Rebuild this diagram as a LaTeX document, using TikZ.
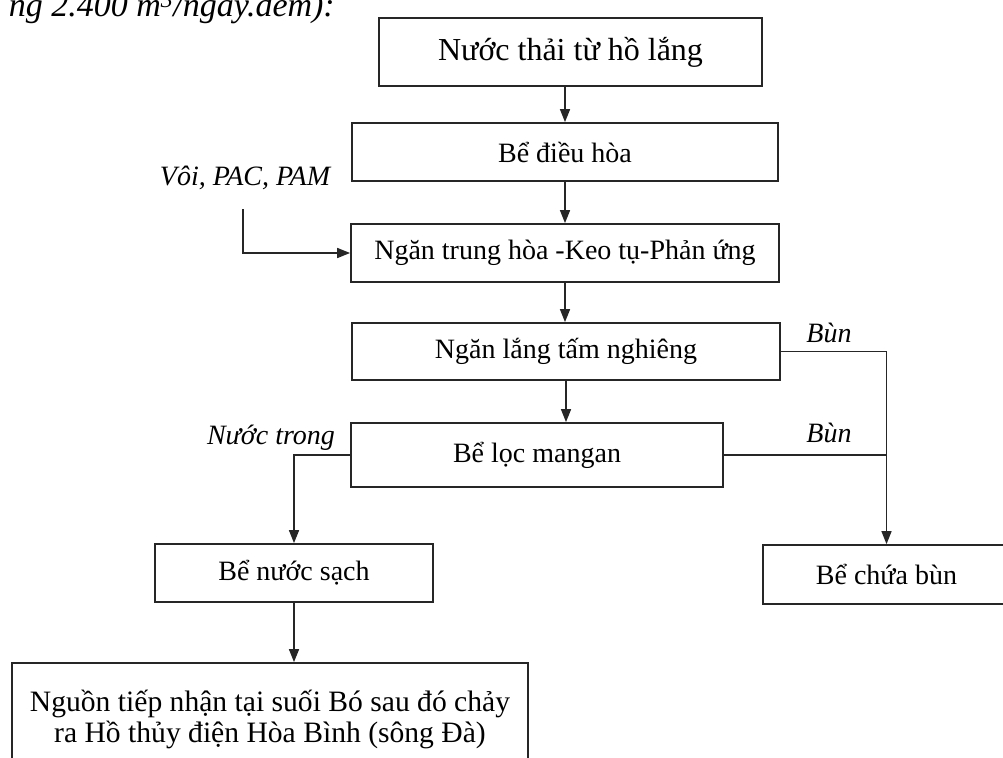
\documentclass[tikz,border=0pt]{standalone}
\usepackage{fontspec}
\setmainfont{Liberation Serif}
\usetikzlibrary{arrows.meta}
\begin{document}
\begin{tikzpicture}[
  x=1pt,y=-1pt,
  stage/.style={draw=black!85,line width=1.7pt,minimum height=58pt,
                align=center,inner sep=0pt,font=\fontsize{28}{31}\selectfont},
  bigstage/.style={stage,font=\fontsize{32}{31}\selectfont},
  note/.style={font=\fontsize{28}{30}\selectfont\itshape},
  flow/.style={-{Triangle[length=13pt,width=10pt]},line width=1.4pt,draw=black!85},
  link/.style={line width=1.4pt,draw=black!85}
]
  \useasboundingbox (0,0) rectangle (1003,757);
  \node[font=\fontsize{34}{38}\selectfont\itshape,anchor=base east,inner sep=0pt] (caption)
    at (335,17) {ng 2.400 m\textsuperscript{3}/ngày.đêm):};

  \node[bigstage,minimum width=383pt,minimum height=68pt] (inflow) at (570.5,52)
    {Nước thải từ hồ lắng};
  \node[stage,minimum width=426pt] (equal) at (565,152) {Bể điều hòa};
  \node[stage,minimum width=428pt] (coag) at (565,253)
    {Ngăn trung hòa -Keo tụ-Phản ứng};
  \node[stage,minimum width=428pt,minimum height=57pt] (settle) at (566,351.5)
    {Ngăn lắng tấm nghiêng};
  \node[stage,minimum width=372pt,minimum height=64pt] (mnfilter) at (537,455)
    {Bể lọc mangan};
  \node[stage,minimum width=278pt] (clean) at (294,573) {Bể nước sạch};
  \node[stage,minimum width=247pt,minimum height=59pt] (sludge) at (886.5,574.5)
    {Bể chứa bùn};
  \node[stage,minimum width=516pt,minimum height=112pt,
        font=\fontsize{29.6}{31}\selectfont] (river) at (270,719)
    {Nguồn tiếp nhận tại suối Bó sau đó chảy\\ra Hồ thủy điện Hòa Bình (sông Đà)};

  % main line
  \draw[flow] (equal.north |- inflow.south)--(equal.north);
  \draw[flow] (coag.north |- equal.south)--(coag.north);
  \draw[flow] (coag.south)--(coag.south |- settle.north);
  \draw[flow] (settle.south)--(settle.south |- mnfilter.north);

  % chemicals
  \node[note] (chem) at (245,178) {Vôi, PAC, PAM};
  \coordinate (chemin) at (243,209);
  \draw[flow] (chemin) |- (coag.west);

  % sludge
  \node[note] (mud1) at (829,333) {Bùn};
  \node[note] (mud2) at (829,433) {Bùn};
  \draw[flow] (settle.east) -| (sludge.north);
  \draw[link] (mnfilter.east)--(mnfilter.east -| sludge.north);

  % clear water
  \node[note] (clear) at (271,438) {Nước trong};
  \draw[flow] (mnfilter.west) -| (clean.north);
  \draw[flow] (clean.south)--(clean.south |- river.north);
\end{tikzpicture}
\end{document}
